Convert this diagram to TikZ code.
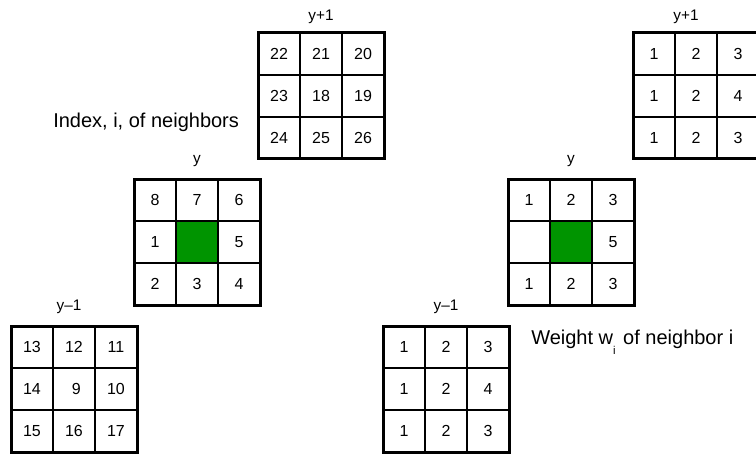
\documentclass[tikz,border=0pt]{standalone}
\usepackage{fontspec}
\setmainfont{Liberation Sans}
\definecolor{cellgreen}{RGB}{0,148,0}
\tikzset{
  cell/.style={draw=black, line width=1.5pt, minimum size=31.5pt, inner sep=0pt,
    font=\fontsize{12}{14}\selectfont},
  plain/.style={},
  centre/.style={fill=cellgreen},
  outerframe/.style={draw=black, line width=2.25pt},
  lvl/.style={font=\fontsize{11.5}{13}\selectfont, inner sep=0pt, anchor=base},
  caption/.style={font=\fontsize{15}{18}\selectfont, inner sep=0pt, anchor=base west}
}
\newcommand{\cellgrid}[4]{%
  \foreach \t/\s [count=\k from 0] in {#4} {
    \pgfmathtruncatemacro{\cc}{mod(\k,3)}
    \pgfmathtruncatemacro{\rr}{int(\k/3)}
    \node[cell, \s] (#1-\rr-\cc) at ({#2+21+42*\cc},{#3+21+42*\rr}) {\t};
  }
  \draw[outerframe] (#2,#3) rectangle ++(126,126);
}
\begin{document}
\begin{tikzpicture}[x=0.75pt,y=-0.75pt]
\useasboundingbox (0,0) rectangle (756,456);
\clip (0,0) rectangle (756,456);
% left: indices
\cellgrid{A}{258}{33}{22/plain,21/plain,20/plain,23/plain,18/plain,19/plain,24/plain,25/plain,26/plain}
\cellgrid{B}{134}{179}{8/plain,7/plain,6/plain,1/plain,{}/centre,5/plain,2/plain,3/plain,4/plain}
\cellgrid{C}{11}{326}{13/plain,12/plain,11/plain,14/plain,\hspace{3.5pt}9/plain,10/plain,15/plain,16/plain,17/plain}
% right: weights
\cellgrid{D}{633}{33}{1/plain,2/plain,3/plain,1/plain,2/plain,4/plain,1/plain,2/plain,3/plain}
\cellgrid{E}{508}{179}{1/plain,2/plain,3/plain,{}/plain,{}/centre,5/plain,1/plain,2/plain,3/plain}
\cellgrid{F}{383}{326}{1/plain,2/plain,3/plain,1/plain,2/plain,4/plain,1/plain,2/plain,3/plain}
% level labels
\node[lvl] (lA) at (321,21) {y+1};
\node[lvl] (lB) at (197,164) {y};
\node[lvl] (lC) at (69,310) {y–1};
\node[lvl] (lD) at (686,21) {y+1};
\node[lvl] (lE) at (571,164) {y};
\node[lvl] (lF) at (446,310) {y–1};
% captions
\node[caption] (capL) at (53,128) {Index, i, of neighbors};
\node[caption] (capR) at (531,344) {Weight w\raisebox{-7.5pt}{\fontsize{8.5}{10}\selectfont i}\hspace{1.5pt} of neighbor i};
\end{tikzpicture}
\end{document}
